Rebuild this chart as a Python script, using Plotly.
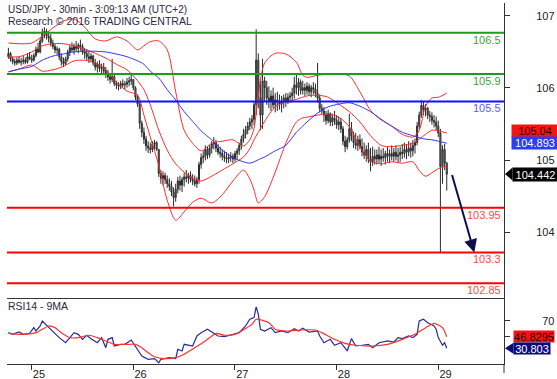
import numpy as np
import pandas as pd
import plotly.graph_objects as go

# ---------------- data ----------------
first_bar = "2016-07-24 18:30"          # first 30-min bar on screen
day_ref = "2016-07-25 00:00"            # bar number 0 for indicator samples
day_ticks = ["2016-07-25", "2016-07-26", "2016-07-27", "2016-07-28", "2016-07-29"]
day_labels = ["25", "26", "27", "28", "29"]
x_window = ["2016-07-24 18:10", "2016-07-29 15:31"]

first_open = 106.15
bar_high = [
    106.28, 106.22, 106.15, 106.12, 106.14, 106.15, 106.13, 106.16, 106.14, 106.20, 106.22, 106.18,
    106.20, 106.30, 106.35, 106.42, 106.56, 106.58, 106.56, 106.52, 106.48, 106.40, 106.34, 106.30,
    106.28, 106.20, 106.14, 106.15, 106.25, 106.32, 106.36, 106.34, 106.38, 106.35, 106.40, 106.34,
    106.28, 106.26, 106.22, 106.20, 106.18, 106.12, 106.08, 106.10, 106.05, 106.06, 106.00, 105.96,
    105.90, 106.12, 105.90, 105.80, 105.78, 105.80, 105.82, 105.80, 105.84, 105.86, 105.90, 105.82,
    105.72, 105.60, 105.50, 105.22, 105.12, 105.00, 104.92, 104.90, 104.92, 104.94, 104.92, 104.80,
    104.50, 104.48, 104.46, 104.42, 104.38, 104.34, 104.25, 104.30, 104.40, 104.42, 104.40, 104.46,
    104.50, 104.46, 104.48, 104.44, 104.42, 104.40, 104.62, 104.74, 104.78, 104.86, 104.84, 104.86,
    104.92, 104.98, 104.94, 104.88, 104.84, 104.80, 104.78, 104.76, 104.74, 104.76, 104.74, 104.78,
    104.82, 104.90, 105.00, 105.10, 105.14, 105.20, 105.26, 105.30, 105.50, 106.55, 106.20, 105.80,
    106.12, 105.86, 105.80, 105.72, 105.66, 105.70, 105.62, 105.64, 105.60, 105.58, 105.60, 105.62,
    105.62, 105.64, 105.70, 105.86, 105.90, 105.84, 105.82, 105.80, 105.76, 105.78, 105.76, 105.74,
    105.78, 105.76, 106.06, 105.60, 105.46, 105.42, 105.36, 105.38, 105.34, 105.32, 105.36, 105.30,
    105.28, 105.26, 105.14, 105.00, 104.98, 105.32, 105.20, 105.06, 105.04, 105.00, 105.02, 104.96,
    104.90, 104.86, 104.90, 104.82, 104.84, 104.80, 104.80, 104.84, 104.80, 104.82, 104.78, 104.84,
    104.80, 104.86, 104.82, 104.86, 104.82, 104.84, 104.88, 104.90, 104.88, 104.92, 104.90, 104.94,
    104.96, 105.20, 105.35, 105.52, 105.50, 105.46, 105.42, 105.36, 105.34, 105.30, 105.28, 105.22,
    105.10, 104.86, 104.88, 104.62]
bar_low = [
    106.12, 106.08, 106.04, 106.02, 106.03, 106.05, 106.02, 106.04, 106.04, 106.05, 106.10, 106.06,
    106.08, 106.14, 106.20, 106.20, 106.35, 106.42, 106.40, 106.36, 106.30, 106.26, 106.20, 106.18,
    106.10, 106.02, 106.00, 106.03, 106.08, 106.16, 106.22, 106.18, 106.22, 106.20, 106.24, 106.18,
    106.12, 106.10, 106.06, 106.08, 106.02, 105.95, 105.92, 105.93, 105.90, 105.90, 105.84, 105.80,
    105.76, 105.78, 105.72, 105.68, 105.66, 105.68, 105.70, 105.67, 105.70, 105.72, 105.74, 105.66,
    105.52, 105.42, 105.10, 104.98, 104.88, 104.78, 104.75, 104.74, 104.76, 104.80, 104.78, 104.40,
    104.30, 104.28, 104.30, 104.24, 104.20, 104.12, 103.97, 104.04, 104.16, 104.20, 104.18, 104.26,
    104.32, 104.30, 104.32, 104.28, 104.26, 104.24, 104.30, 104.52, 104.60, 104.64, 104.66, 104.68,
    104.74, 104.80, 104.76, 104.72, 104.68, 104.64, 104.62, 104.60, 104.60, 104.62, 104.60, 104.62,
    104.66, 104.72, 104.80, 104.90, 104.96, 105.02, 105.08, 105.10, 105.15, 105.30, 105.40, 105.08,
    105.10, 105.50, 105.45, 105.40, 105.36, 105.40, 105.34, 105.36, 105.38, 105.34, 105.40, 105.42,
    105.46, 105.48, 105.50, 105.54, 105.60, 105.58, 105.60, 105.60, 105.58, 105.60, 105.58, 105.56,
    105.60, 105.56, 105.48, 105.34, 105.32, 105.20, 105.16, 105.18, 105.14, 105.14, 105.16, 105.10,
    105.08, 105.04, 104.86, 104.76, 104.80, 104.90, 104.92, 104.82, 104.80, 104.78, 104.80, 104.70,
    104.66, 104.62, 104.60, 104.48, 104.56, 104.58, 104.58, 104.60, 104.56, 104.62, 104.58, 104.62,
    104.60, 104.64, 104.62, 104.64, 104.60, 104.62, 104.66, 104.68, 104.66, 104.70, 104.68, 104.70,
    104.74, 104.86, 105.10, 105.26, 105.30, 105.28, 105.24, 105.20, 105.16, 105.12, 105.08, 104.98,
    103.30, 104.30, 104.50, 104.20]
bar_close = [
    106.20, 106.12, 106.08, 106.06, 106.10, 106.07, 106.08, 106.10, 106.07, 106.15, 106.12, 106.10,
    106.17, 106.26, 106.22, 106.38, 106.50, 106.52, 106.45, 106.42, 106.35, 106.30, 106.25, 106.26,
    106.15, 106.08, 106.05, 106.12, 106.22, 106.28, 106.25, 106.30, 106.27, 106.32, 106.30, 106.22,
    106.20, 106.15, 106.12, 106.16, 106.06, 106.00, 106.04, 105.98, 106.00, 105.94, 105.90, 105.86,
    105.82, 105.86, 105.76, 105.74, 105.72, 105.76, 105.74, 105.75, 105.78, 105.80, 105.82, 105.70,
    105.56, 105.46, 105.18, 105.05, 104.95, 104.85, 104.82, 104.80, 104.88, 104.90, 104.80, 104.45,
    104.38, 104.42, 104.36, 104.30, 104.26, 104.18, 104.10, 104.22, 104.34, 104.28, 104.36, 104.40,
    104.38, 104.42, 104.36, 104.34, 104.30, 104.36, 104.58, 104.68, 104.70, 104.80, 104.72, 104.82,
    104.88, 104.90, 104.82, 104.76, 104.74, 104.70, 104.68, 104.66, 104.68, 104.70, 104.66, 104.74,
    104.78, 104.86, 104.95, 105.02, 105.08, 105.14, 105.20, 105.24, 105.45, 106.10, 105.55, 105.30,
    105.80, 105.70, 105.55, 105.50, 105.58, 105.45, 105.52, 105.50, 105.46, 105.50, 105.55, 105.50,
    105.56, 105.58, 105.62, 105.74, 105.70, 105.78, 105.66, 105.70, 105.66, 105.72, 105.64, 105.70,
    105.68, 105.62, 105.55, 105.40, 105.36, 105.30, 105.22, 105.32, 105.20, 105.26, 105.22, 105.16,
    105.20, 105.10, 104.92, 104.84, 104.94, 105.10, 105.00, 104.90, 104.86, 104.94, 104.84, 104.76,
    104.72, 104.80, 104.66, 104.62, 104.70, 104.66, 104.72, 104.66, 104.70, 104.68, 104.74, 104.70,
    104.74, 104.70, 104.76, 104.70, 104.72, 104.76, 104.74, 104.80, 104.76, 104.82, 104.78, 104.86,
    104.90, 105.14, 105.30, 105.44, 105.38, 105.40, 105.30, 105.28, 105.22, 105.20, 105.14, 105.04,
    104.55, 104.80, 104.60, 104.44]

# indicator samples, bar number counted from 25 Jul 00:00 (30-min bars)
ind_bar = [-11, -6, 0, 5, 10, 15, 20, 25, 30, 35, 40, 45, 50, 53, 56, 60, 64, 68, 72, 76,
           80, 85, 90, 95, 100, 103, 105, 107, 110, 115, 120, 125, 128, 130, 135, 140, 145, 150,
           155, 160, 165, 170, 175, 180, 183, 186, 189, 192, 196]
bb_upper = [106.35, 106.34, 106.35, 106.45, 106.57, 106.67, 106.70, 106.58, 106.41, 106.38,
            106.44, 106.38, 106.25, 106.31, 106.37, 106.38, 106.25, 105.64, 105.08, 104.89,
            104.78, 104.89, 104.92, 104.94, 104.85, 104.94, 105.11, 105.59, 106.06, 106.20,
            106.19, 106.07, 105.88, 105.85, 105.88, 105.90, 105.90, 105.87, 105.64, 105.37,
            105.23, 105.14, 105.02, 104.98, 105.08, 105.43, 105.55, 105.56, 105.62]
bb_middle = [106.15, 106.15, 106.22, 106.31, 106.34, 106.34, 106.31, 106.26, 106.20, 106.13,
             106.04, 105.96, 105.80, 105.67, 105.45, 105.08, 104.79, 104.59, 104.47, 104.38,
             104.34, 104.41, 104.50, 104.59, 104.69, 104.81, 104.94, 105.05, 105.21, 105.42,
             105.49, 105.53, 105.56, 105.58, 105.59, 105.56, 105.46, 105.35, 105.20, 105.00,
             104.86, 104.84, 104.86, 104.89, 104.95, 105.02, 105.08, 105.07, 105.04]
bb_lower = [105.93, 105.97, 106.03, 105.94, 105.96, 106.01, 106.09, 106.10, 106.06, 105.96,
            105.78, 105.65, 105.59, 105.30, 104.98, 104.57, 104.06, 103.77, 103.89, 104.03,
            104.09, 104.02, 104.14, 104.34, 104.50, 104.37, 104.21, 104.02, 104.11, 104.47,
            104.89, 105.20, 105.26, 105.27, 105.30, 105.32, 105.27, 105.13, 104.84, 104.63,
            104.59, 104.62, 104.60, 104.62, 104.49, 104.41, 104.46, 104.52, 104.56]
ma_blue = [105.93, 105.97, 106.01, 106.10, 106.16, 106.19, 106.22, 106.23, 106.23, 106.22,
           106.19, 106.15, 106.09, 106.04, 105.94, 105.84, 105.67, 105.52, 105.35, 105.21,
           105.07, 104.94, 104.79, 104.68, 104.62, 104.60, 104.62, 104.65, 104.69, 104.78,
           104.86, 105.05, 105.14, 105.20, 105.33, 105.42, 105.46, 105.48, 105.43, 105.35,
           105.24, 105.14, 105.05, 105.00, 104.97, 104.95, 104.94, 104.92, 104.89]

rsi_bar = [-11, -9, -6, -4, -1, 1, 2, 4, 5, 7, 9, 13, 16, 18, 20, 22, 24, 26, 28, 31, 33, 35, 36,
           38, 39, 42, 44, 47, 49, 52, 55, 58, 60, 61, 65, 68, 69, 71, 72, 76, 78, 80, 83, 85, 88,
           91, 94, 98, 101, 103, 105, 106, 107, 108, 110, 113, 115, 118, 121, 124, 126, 128, 131,
           135, 136, 138, 141, 143, 146, 149, 151, 153, 156, 159, 161, 164, 168, 171, 173, 175,
           178, 180, 182, 183, 185, 187, 190, 191, 192, 194, 195, 196]
rsi_val = [52.4, 50.1, 53.3, 50.1, 51.5, 59.3, 54.7, 61.6, 68.5, 62.6, 57.1, 45.5, 38.5, 45.5,
           52.4, 50.1, 43.2, 48.8, 44.1, 38.5, 45.5, 31.6, 43.2, 45.5, 34.0, 36.3, 36.3, 42.3,
           34.0, 20.2, 15.6, 16.5, 10.9, 15.6, 17.8, 16.5, 29.4, 27.1, 36.3, 34.0, 47.8, 52.4,
           57.1, 53.3, 47.8, 46.8, 48.8, 52.4, 61.6, 70.9, 73.1, 88.0, 78.0, 57.1, 54.7, 59.3,
           52.4, 54.7, 52.4, 57.9, 54.7, 58.4, 53.3, 54.7, 47.8, 38.5, 43.2, 35.0, 38.5, 27.1,
           44.1, 34.0, 35.0, 36.3, 31.6, 38.5, 40.9, 39.5, 45.5, 44.1, 47.8, 45.5, 50.1, 68.5,
           70.9, 66.2, 61.6, 57.1, 45.5, 35.0, 38.5, 30.8]
rsima_bar = [-11, -5, 2, 5, 8, 11, 14, 18, 22, 27, 31, 35, 39, 46, 49, 52, 55, 58, 63, 68, 72, 77,
             82, 87, 91, 96, 99, 104, 106, 112, 115, 121, 127, 134, 137, 143, 148, 153, 161, 168,
             175, 181, 186, 190, 194, 196]
rsima_val = [51.5, 50.1, 52.4, 57.1, 61.6, 59.3, 52.4, 45.5, 45.5, 48.8, 45.5, 40.9, 36.3, 36.3,
             36.3, 31.6, 24.7, 19.2, 16.5, 17.8, 22.5, 31.6, 40.9, 51.5, 48.8, 50.1, 54.7, 63.9,
             70.9, 66.2, 57.1, 54.7, 56.1, 56.1, 52.4, 43.2, 37.7, 35.0, 34.0, 36.3, 43.2, 50.1,
             59.3, 65.3, 59.3, 46.83]

green_levels = [106.5, 105.9]
blue_levels = [105.5]
red_levels = [103.95, 103.3, 102.85]
level_labels = {106.5: "106.5", 105.9: "105.9", 105.5: "105.5",
                103.95: "103.95", 103.3: "103.3", 102.85: "102.85"}

last_middle, last_ma, last_price = 105.04, 104.893, 104.442
last_rsima, last_rsi = 46.8295, 30.803
arrow_from = ("2016-07-29 03:09", 104.45)
arrow_to = ("2016-07-29 08:30", 103.30)

price_ticks = [104, 105, 106, 107]
rsi_ticks = [70, 50]
rsi_ticktext = ["70", ""]

# ---------------- build ----------------
W, H = 557, 379
bar_time = pd.date_range(first_bar, periods=len(bar_close), freq="30min")
bar_open = [first_open] + bar_close[:-1]
t0 = pd.Timestamp(day_ref)
to_time = lambda ks: [t0 + pd.Timedelta(minutes=30 * k) for k in ks]

fig = go.Figure()
fig.add_trace(go.Candlestick(
    x=bar_time, open=bar_open, high=bar_high, low=bar_low, close=bar_close,
    increasing=dict(line=dict(color="#2a2a2a", width=1), fillcolor="#909090"),
    decreasing=dict(line=dict(color="#2a2a2a", width=1), fillcolor="#909090"),
    whiskerwidth=0, xaxis="x", yaxis="y", hoverinfo="skip"))

ind_t = to_time(ind_bar)
for vals, col in [(bb_upper, "#ff2a2a"), (bb_middle, "#ff2a2a"), (bb_lower, "#ff2a2a"),
                  (ma_blue, "#3535ff")]:
    fig.add_trace(go.Scatter(x=ind_t, y=vals, mode="lines",
                             line=dict(color=col, width=1, shape="spline", smoothing=0.8),
                             xaxis="x", yaxis="y", hoverinfo="skip"))

fig.add_trace(go.Scatter(x=to_time(rsi_bar), y=rsi_val, mode="lines",
                         line=dict(color="#2b2b9a", width=1.2), xaxis="x2", yaxis="y2"))
fig.add_trace(go.Scatter(x=to_time(rsima_bar), y=rsima_val, mode="lines",
                         line=dict(color="#ff3030", width=1.2, shape="spline", smoothing=0.6),
                         xaxis="x2", yaxis="y2"))

# pixel layout helpers (paper fractions)
px = lambda x: x / W
py = lambda y: 1 - y / H
xdom = [px(7), px(504)]
price_dom = [py(298), py(3)]
rsi_dom = [py(364), py(299)]

shapes = []
annots = []
for lv_list, lcol, tcol in [(green_levels, "#1f9a1f", "#43a043"),
                            (blue_levels, "#1010ff", "#5a5aff"),
                            (red_levels, "#ff0000", "#ff4a4a")]:
    for lv in lv_list:
        shapes.append(dict(type="line", xref="x domain", yref="y", x0=0, x1=1, y0=lv, y1=lv,
                           line=dict(color=lcol, width=2), layer="above"))
        annots.append(dict(x=px(503), xref="paper", y=lv, yref="y", yshift=-7,
                           text=level_labels[lv], showarrow=False, xanchor="right",
                           yanchor="middle", font=dict(size=11, color=tcol)))

# right-side value boxes
annots.append(dict(x=px(511), xref="paper", y=last_middle, yref="y", yshift=2,
                   text=f"{last_middle:.2f}", showarrow=False, xanchor="left", yanchor="middle",
                   bgcolor="#ff1010", width=46, height=12, borderpad=0,
                   font=dict(size=11, color="#1a0000")))
annots.append(dict(x=px(511), xref="paper", y=last_ma, yref="y",
                   text=f"{last_ma:.3f}", showarrow=False, xanchor="left", yanchor="middle",
                   bgcolor="#2a3cff", width=46, height=12, borderpad=0,
                   font=dict(size=11, color="white")))
annots.append(dict(x=px(512), xref="paper", y=last_price, yref="y",
                   text=f"{last_price:.3f}", showarrow=False, xanchor="left", yanchor="middle",
                   bgcolor="#000000", width=45, height=13, borderpad=0,
                   font=dict(size=11, color="white")))
dp = 6.5 / 68.66
shapes.append(dict(type="path", xref="paper", yref="y",
                   path=f"M {px(505)},{last_price} L {px(512.5)},{last_price + dp} "
                        f"L {px(512.5)},{last_price - dp} Z",
                   fillcolor="#000000", line=dict(width=0)))
annots.append(dict(x=px(513), xref="paper", y=last_rsima, yref="y2",
                   text=f"{last_rsima:.4f}", showarrow=False, xanchor="left", yanchor="middle",
                   bgcolor="#ff1010", width=40, height=11, borderpad=0,
                   font=dict(size=11, color="#1a0000")))
annots.append(dict(x=px(513), xref="paper", y=last_rsi, yref="y2",
                   text=f"{last_rsi:.3f}", showarrow=False, xanchor="left", yanchor="middle",
                   bgcolor="#0a0a80", width=36, height=11, borderpad=0,
                   font=dict(size=11, color="white")))
dr = 5.5 / 0.724
shapes.append(dict(type="path", xref="paper", yref="y2",
                   path=f"M {px(505)},{last_rsi} L {px(513.5)},{last_rsi + dr} "
                        f"L {px(513.5)},{last_rsi - dr} Z",
                   fillcolor="#0a0a80", line=dict(width=0)))
# extension of right axis line below RSI panel
shapes.append(dict(type="line", xref="paper", yref="paper", x0=px(504), x1=px(504),
                   y0=py(373), y1=py(364), line=dict(color="#333333", width=1)))

# forecast arrow
annots.append(dict(x=arrow_to[0], y=arrow_to[1], xref="x", yref="y",
                   ax=arrow_from[0], ay=arrow_from[1], axref="x", ayref="y",
                   text="", showarrow=True, arrowhead=2, arrowsize=1.3, arrowwidth=2,
                   arrowcolor="#0b0f4e", standoff=0))

# titles
annots.append(dict(x=px(6), y=py(9.5), xref="paper", yref="paper", xanchor="left",
                   yanchor="middle", showarrow=False,
                   text="USD/JPY - 30min - 3:09:13 AM (UTC+2)",
                   font=dict(size=10, color="#2a2a40")))
annots.append(dict(x=px(6), y=py(21.5), xref="paper", yref="paper", xanchor="left",
                   yanchor="middle", showarrow=False,
                   text="Research © 2016 TRADING CENTRAL",
                   font=dict(size=10.5, color="#2a2a40")))
annots.append(dict(x=px(6), y=py(306), xref="paper", yref="paper", xanchor="left",
                   yanchor="middle", showarrow=False, text="RSI14 - 9MA",
                   font=dict(size=10.5, color="#2a2a40")))

axis_common = dict(showgrid=False, zeroline=False, automargin=False)
fig.update_layout(
    width=W, height=H, margin=dict(l=0, r=0, t=0, b=0, pad=0),
    template="none", paper_bgcolor="white", plot_bgcolor="rgba(0,0,0,0)",
    font=dict(family="Liberation Sans, Arial, sans-serif", size=11, color="#222222"),
    showlegend=False, hovermode=False,
    xaxis=dict(domain=xdom, type="date", range=x_window, anchor="y", showticklabels=False,
               ticks="", showline=False, rangeslider=dict(visible=False), **axis_common),
    yaxis=dict(domain=price_dom, range=[102.636, 106.933], anchor="x", showticklabels=False,
               ticks="", showline=False, **axis_common),
    yaxis3=dict(overlaying="y", side="right", anchor="x", range=[103.090, 107.176],
                tickvals=price_ticks, ticktext=[str(v) for v in price_ticks],
                ticks="outside", ticklen=5, tickcolor="#333333", showline=True,
                linecolor="#333333", linewidth=1, ticklabelstandoff=24,
                tickfont=dict(size=11, color="#222222"), **axis_common),
    xaxis2=dict(domain=xdom, type="date", range=x_window, anchor="y2", matches="x",
                tickvals=day_ticks, ticktext=day_labels, ticks="outside", ticklen=5,
                tickcolor="#333333", ticklabelposition="outside right",
                showline=True, mirror=True, linecolor="#333333", linewidth=1.3,
                tickfont=dict(size=11, color="#222222"), **axis_common),
    yaxis2=dict(domain=rsi_dom, range=[9.1, 98.9], anchor="x2", showticklabels=False,
                ticks="", showline=False, **axis_common),
    yaxis4=dict(overlaying="y2", side="right", anchor="x2", range=[12.7, 99.3],
                tickvals=rsi_ticks, ticktext=rsi_ticktext, ticks="outside", ticklen=5,
                tickcolor="#333333", showline=True, linecolor="#333333", linewidth=1,
                ticklabelstandoff=30, tickfont=dict(size=11, color="#222222"), **axis_common),
    shapes=shapes, annotations=annots,
)
# dummy traces so the overlay tick axes are drawn
fig.add_trace(go.Scatter(x=[None], y=[None], xaxis="x", yaxis="y3", showlegend=False))
fig.add_trace(go.Scatter(x=[None], y=[None], xaxis="x2", yaxis="y4", showlegend=False))

fig.write_html("out.html", config={"displayModeBar": False})
